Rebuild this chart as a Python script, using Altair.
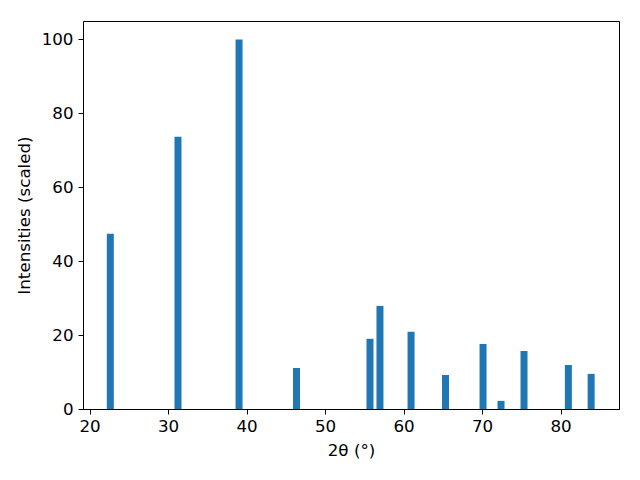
import altair as alt
import pandas as pd

two_theta = [22.65, 31.27, 39.05, 46.37, 55.73, 57.0, 60.96, 65.35, 70.13, 72.42, 75.35, 81.0, 83.9]
intensity = [47.4, 73.7, 100.0, 11.1, 19.0, 27.9, 20.9, 9.2, 17.6, 2.2, 15.7, 11.9, 9.5]

df = pd.DataFrame({"tt": two_theta, "I": intensity})

FONT = "DejaVu Sans"
FS = 16.7

chart = alt.Chart(df).mark_bar(size=7, color="#1f77b4").encode(
    x=alt.X("tt:Q",
            scale=alt.Scale(domain=[19.17, 87.45], nice=False, zero=False, padding=0),
            axis=alt.Axis(title="2θ (°)", values=[20, 30, 40, 50, 60, 70, 80],
                          format="d", grid=False, tickSize=5, tickColor="black",
                          domainColor="black", labelColor="black", titleColor="black",
                          labelFont=FONT, titleFont=FONT, labelFontSize=FS, titleFontSize=FS,
                          titleFontWeight="normal", labelPadding=4, titlePadding=8)),
    y=alt.Y("I:Q",
            scale=alt.Scale(domain=[0, 105], nice=False, padding=0),
            axis=alt.Axis(title="Intensities (scaled)", values=[0, 20, 40, 60, 80, 100],
                          grid=False, tickSize=5, tickColor="black",
                          domainColor="black", labelColor="black", titleColor="black",
                          labelFont=FONT, titleFont=FONT, labelFontSize=FS, titleFontSize=FS,
                          titleFontWeight="normal", labelPadding=5, titlePadding=8)),
).properties(
    width=536, height=388,
    autosize=alt.AutoSizeParams(type="none"),
    padding={"left": 75, "top": 13, "right": 5, "bottom": 55},
).configure(background="white").configure_view(stroke="black", strokeWidth=1)

chart.save("out.html", embed_options={"renderer": "svg", "actions": False})
